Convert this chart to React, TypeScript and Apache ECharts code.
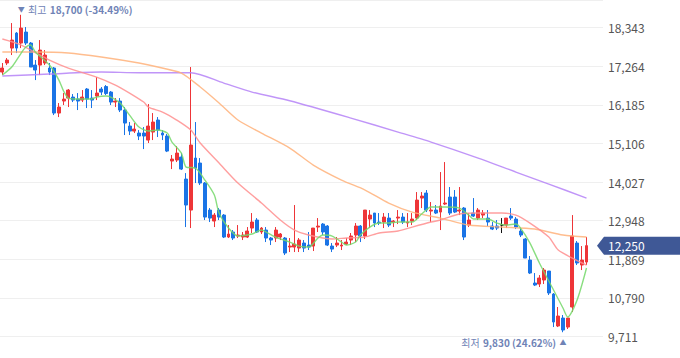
import React, { useEffect, useRef } from 'react';
import * as echarts from 'echarts';

// Daily OHLC (KRW), oldest -> newest
const opens = [
  17100, 17352, 17770, 18189, 17910, 18217, 17910, 17295, 17295, 17351,
  17212, 17212, 15954, 16290, 16373, 16401, 16345, 16317, 16625, 16373,
  16429, 16625, 16695, 16541, 16261, 16289, 16038, 15591, 15451, 15396,
  15396, 15200, 15423, 15759, 15396, 15312, 14613, 14641, 14724, 14110,
  13244, 14697, 14557, 13999, 13244, 12937, 13244, 13104, 12490, 12630,
  12518, 12490, 12490, 12741, 12965, 12630, 12685, 12462, 12462, 12490,
  12462, 12210, 12210, 12182, 12322, 12266, 12238, 12769, 12853, 12797,
  12238, 12266, 12238, 12294, 12406, 12546, 12797, 12518, 12993, 13160,
  12909, 12909, 13020, 12909, 13020, 13048, 12881, 12937, 13020, 13579,
  13719, 13216, 13244, 13188, 13412, 13607, 13607, 13216, 13300, 12825,
  13160, 13020, 13104, 13020, 12797, 12797, 12825, 12825, 13076, 12993,
  12658, 12434, 11847, 11205, 11177, 11289, 11540, 10898, 10004, 10227,
  9975, 10535, 12322, 11708, 11791,
];
const closes = [
  17212, 17435, 17994, 17770, 18329, 17910, 17240, 17156, 17714, 17575,
  17100, 15954, 16122, 16345, 16597, 16317, 16290, 16401, 16345, 16317,
  16513, 16541, 16499, 16261, 16289, 16038, 15675, 15451, 15507, 15312,
  15312, 15591, 15703, 15479, 15340, 14892, 14669, 14836, 14389, 13384,
  15060, 14418, 13999, 13048, 13020, 13104, 13048, 12490, 12574, 12462,
  12546, 12546, 12658, 12909, 12630, 12741, 12462, 12406, 12685, 12574,
  12043, 12238, 12294, 12406, 12182, 12210, 12741, 12797, 12630, 12266,
  12154, 12322, 12266, 12350, 12518, 12797, 12518, 13244, 13104, 12881,
  12881, 13048, 12825, 12937, 13048, 12909, 12909, 12993, 13523, 13635,
  13244, 13244, 13160, 13356, 13440, 13160, 13188, 13244, 12490, 12965,
  13076, 13244, 13160, 12909, 12713, 12741, 12825, 13020, 13020, 12769,
  12546, 11903, 11484, 11149, 11345, 11568, 10926, 10115, 10283, 9892,
  10227, 12518, 11764, 11847, 12250,
];
const lows = [
  17016, 17295, 17575, 17630, 17770, 17854, 17240, 16876, 17016, 17295,
  17016, 15898, 15842, 16178, 16122, 16261, 16038, 16261, 16094, 16094,
  16317, 16457, 16457, 16178, 16122, 15982, 15340, 15340, 15396, 15200,
  14948, 15117, 15200, 15284, 15200, 14864, 14389, 14585, 14362, 12769,
  12741, 13999, 13943, 12965, 12909, 12769, 12965, 12462, 12462, 12406,
  12462, 12406, 12462, 12602, 12602, 12574, 12350, 12266, 12350, 12406,
  11987, 12071, 12071, 12071, 12071, 12127, 12099, 12630, 12546, 12238,
  12071, 12210, 12127, 12266, 12266, 12350, 12350, 12434, 12741, 12769,
  12825, 12741, 12769, 12769, 12853, 12853, 12769, 12825, 12965, 13300,
  13188, 12909, 13132, 12685, 13384, 13104, 13160, 13104, 12406, 12769,
  13048, 12965, 13020, 12797, 12685, 12685, 12602, 12741, 12965, 12713,
  12490, 11903, 11456, 11121, 11093, 11177, 10870, 9975, 9975, 9830,
  9920, 10395, 11708, 11568, 11708,
];
const highs = [
  17352, 17491, 18469, 18217, 18700, 18357, 17938, 17435, 17994, 17714,
  17352, 17240, 16234, 16513, 16625, 16485, 16513, 16597, 16653, 16597,
  16960, 16681, 16737, 16569, 16373, 16373, 16122, 15703, 15675, 15479,
  15563, 16206, 15954, 15842, 15479, 15368, 14781, 15032, 14836, 14277,
  17240, 15703, 14697, 14027, 13300, 13160, 13300, 13132, 12825, 12685,
  12825, 12630, 12769, 13160, 13020, 12769, 12769, 12490, 12769, 12602,
  12490, 12462, 13384, 12462, 12406, 12630, 12741, 13020, 12881, 12825,
  12322, 12490, 12406, 12462, 12602, 12881, 12825, 13244, 13244, 13160,
  13160, 13160, 13160, 12965, 13244, 13160, 13160, 13160, 13747, 13747,
  13803, 13468, 13384, 14306, 14585, 13887, 13803, 13887, 13328, 13160,
  13579, 13300, 13244, 13244, 12909, 12965, 13020, 13020, 13300, 13048,
  12741, 12462, 11959, 11484, 11428, 11624, 11540, 10926, 10535, 10311,
  10227, 13104, 12378, 12238, 12490,
];

// Category slots on the x axis (the last few are empty space on the right)
const SLOT_COUNT = 128;

// Moving averages: [slot index, price]
const ma5: [number, number][] = [
  [0, 17016], [2, 17240], [4, 17631], [5, 17798], [6, 17854], [7, 17658], [10, 17295],
  [12, 16876], [13, 16569], [14, 16373], [16, 16345], [19, 16345], [20, 16401],
  [22, 16429], [23, 16401], [25, 16234], [27, 15898], [29, 15563], [31, 15451],
  [33, 15479], [35, 15395], [36, 15144], [38, 14836], [39, 14445], [41, 14417],
  [43, 14082], [45, 13663], [46, 13160], [48, 12741], [50, 12518], [53, 12574],
  [55, 12685], [56, 12630], [58, 12490], [61, 12350], [63, 12238], [65, 12210],
  [67, 12462], [68, 12546], [70, 12518], [72, 12350], [73, 12266], [75, 12350],
  [76, 12546], [78, 12769], [80, 12881], [82, 12881], [84, 12909], [87, 12909],
  [89, 13132], [91, 13328], [94, 13328], [97, 13300], [99, 13104], [100, 12993],
  [103, 12993], [105, 12881], [107, 12825], [109, 12853], [110, 12741], [112, 12322],
  [114, 11764], [117, 11009], [119, 10507], [120, 10255], [122, 10730], [124, 11624],
];
const ma20: [number, number][] = [
  [0, 18022], [4, 17854], [10, 17435], [14, 17212], [20, 16960], [24, 16737],
  [27, 16513], [30, 16262], [31, 16122], [34, 15982], [37, 15759], [40, 15479],
  [42, 15116], [46, 14557], [50, 13999], [55, 13440], [59, 12965], [62, 12685],
  [65, 12546], [70, 12434], [73, 12462], [77, 12490], [80, 12602], [84, 12658],
  [87, 12769], [91, 12909], [93, 12965], [97, 13132], [101, 13160], [106, 13160],
  [109, 13104], [112, 12881], [116, 12490], [118, 12127], [121, 11903], [124, 11708],
];
const ma60: [number, number][] = [
  [0, 17658], [7, 17658], [14, 17631], [21, 17519], [29, 17351], [33, 17240],
  [38, 17072], [42, 16681], [46, 16234], [50, 15759], [55, 15395], [61, 14976],
  [66, 14501], [72, 14082], [77, 13803], [82, 13440], [87, 13188], [93, 13020],
  [99, 12825], [106, 12769], [113, 12713], [119, 12546], [124, 12490],
];
const ma120: [number, number][] = [
  [0, 16988], [10, 17044], [21, 17100], [29, 17080], [40, 17080], [47, 16792],
  [53, 16541], [61, 16298], [74, 15814], [84, 15423], [91, 15144], [101, 14697],
  [109, 14306], [116, 13970], [124, 13579],
];

// Price axis ticks
const Y_MIN = 9711;
const Y_STEP = 1079;
const Y_MAX = 19113;

const RED = '#ee3538';
const BLUE = '#1a74e6';
const FONT = '"Noto Sans CJK KR", "Noto Sans", sans-serif';
const fmt = (v: number) => v.toLocaleString('en-US');

export default function App() {
  const ref = useRef<HTMLDivElement>(null);

  useEffect(() => {
    const chart = echarts.init(ref.current!, null, { renderer: 'svg' });
    const slots = Array.from({ length: SLOT_COUNT }, (_, i) => String(i));
    const candles = opens.map((o, i) => [o, closes[i], lows[i], highs[i]]);

    const maLine = (name: string, data: [number, number][], color: string) => ({
      name,
      type: 'line',
      data,
      showSymbol: false,
      smooth: 0.25,
      z: 3,
      lineStyle: { color, width: 1.4, opacity: 0.85 },
      silent: true,
    });

    chart.setOption({
      animation: false,
      grid: { left: 0, right: 77, top: 0, bottom: 21.5 },
      xAxis: {
        type: 'category',
        data: slots,
        show: false,
        boundaryGap: true,
      },
      yAxis: {
        type: 'value',
        position: 'right',
        min: Y_MIN,
        max: Y_MAX,
        interval: Y_STEP,
        axisLine: { show: false },
        axisTick: { show: false },
        splitLine: { lineStyle: { color: '#efefef', width: 1 } },
        axisLabel: {
          color: '#555',
          fontSize: 12,
          fontFamily: FONT,
          margin: 5,
          formatter: (v: number) => {
            const k = (v - Y_MIN) / Y_STEP;
            return Math.abs(k - Math.round(k)) < 1e-6 ? fmt(v) : '';
          },
        },
      },
      series: [
        {
          type: 'candlestick',
          data: candles,
          barWidth: 3.4,
          z: 2,
          itemStyle: {
            color: RED,
            color0: BLUE,
            borderColor: RED,
            borderColor0: BLUE,
            borderColorDoji: '#111',
            borderWidth: 1,
          },
        },
        maLine('MA120', ma120, '#b583f7'),
        maLine('MA60', ma60, '#ffb27a'),
        maLine('MA20', ma20, '#ff8e8e'),
        maLine('MA5', ma5, '#74d86a'),
      ],
    });

    // Annotations placed through the chart's own coordinate system
    let maxIdx = 0;
    let minIdx = 0;
    highs.forEach((h, i) => { if (h > highs[maxIdx]) maxIdx = i; });
    lows.forEach((l, i) => { if (l < lows[minIdx]) minIdx = i; });
    const last = closes[closes.length - 1];
    const maxV = highs[maxIdx];
    const minV = lows[minIdx];
    const pctMax = (((last - maxV) / maxV) * 100).toFixed(2);
    const pctMin = (((last - minV) / minV) * 100).toFixed(2);
    const pMax = chart.convertToPixel({ gridIndex: 0 }, [maxIdx, maxV]) as number[];
    const pMin = chart.convertToPixel({ gridIndex: 0 }, [minIdx, minV]) as number[];
    const pLast = chart.convertToPixel({ gridIndex: 0 }, [closes.length - 1, last]) as number[];
    const ly = pLast[1];
    const labelColor = '#6f83b6';
    const rich = {
      a: { fontSize: 7, fill: labelColor, fontFamily: FONT },
      b: { fontSize: 10, fill: labelColor, fontFamily: FONT },
      c: { fontSize: 10, fill: labelColor, fontWeight: 'bold', fontFamily: FONT },
    };

    chart.setOption({
      graphic: [
        {
          type: 'text',
          x: pMax[0] - 3.5,
          y: 9,
          z: 10,
          style: {
            text: `{a|▼} {b|최고} {c|${fmt(maxV)} (${pctMax}%)}`,
            verticalAlign: 'middle',
            align: 'left',
            rich,
          },
        },
        {
          type: 'text',
          x: pMin[0] + 3.5,
          y: 342,
          z: 10,
          style: {
            text: `{b|최저} {c|${fmt(minV)} (${pctMin}%)} {a|▲}`,
            verticalAlign: 'middle',
            align: 'right',
            rich,
          },
        },
        {
          type: 'polygon',
          z: 10,
          shape: {
            points: [
              [597, ly], [604, ly - 9], [680, ly - 9], [680, ly + 9], [604, ly + 9],
            ],
          },
          style: { fill: '#3f5896' },
        },
        {
          type: 'text',
          z: 11,
          x: 608,
          y: ly,
          style: {
            text: fmt(last),
            fill: '#ffffff',
            fontSize: 12,
            fontFamily: FONT,
            verticalAlign: 'middle',
            align: 'left',
          },
        },
      ],
    });

    return () => chart.dispose();
  }, []);

  return (
    <div
      ref={ref}
      style={{ position: 'fixed', left: 0, top: 0, width: 680, height: 358, background: '#fff' }}
    />
  );
}
